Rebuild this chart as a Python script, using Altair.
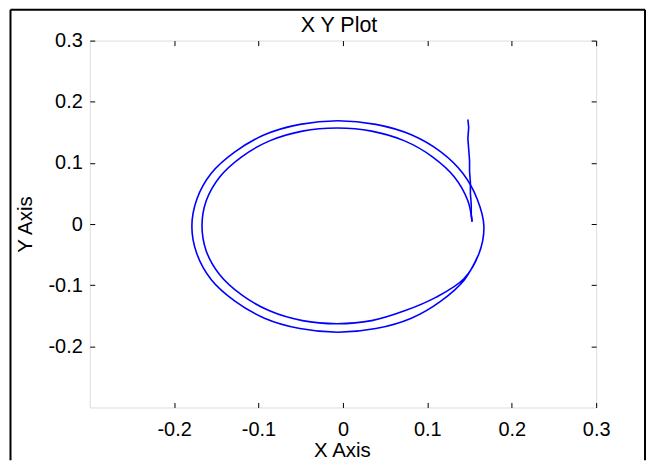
import altair as alt
import pandas as pd

# Transient: near-vertical drop at the right of the orbit
vert_x = [0.148, 0.149, 0.148, 0.149, 0.150, 0.150, 0.151, 0.151, 0.152, 0.152, 0.153]
vert_y = [0.171, 0.158, 0.140, 0.122, 0.104, 0.086, 0.068, 0.050, 0.032, 0.016, 0.004]

# First (inner) loop, counter-clockwise from the right
inner_x = [0.153, 0.148, 0.132, 0.106, 0.073, 0.034, -0.007, -0.048, -0.087, -0.120,
           -0.146, -0.162, -0.167, -0.162, -0.146, -0.120, -0.087, -0.048, -0.007,
           0.034, 0.073, 0.110, 0.143]
inner_y = [0.004, 0.038, 0.077, 0.110, 0.136, 0.152, 0.157, 0.152, 0.136, 0.110,
           0.077, 0.038, -0.003, -0.044, -0.083, -0.116, -0.142, -0.158, -0.163,
           -0.158, -0.142, -0.120, -0.090]

# Second (outer) loop, the settled orbit
outer_x = [0.161, 0.167, 0.159, 0.142, 0.116, 0.081, 0.039, -0.006, -0.051, -0.093,
           -0.128, -0.156, -0.173, -0.179, -0.173, -0.156, -0.128, -0.093, -0.051,
           -0.006, 0.039, 0.081, 0.116, 0.144, 0.161]
outer_y = [-0.049, -0.004, 0.041, 0.083, 0.118, 0.146, 0.163, 0.169, 0.163, 0.146,
           0.118, 0.083, 0.041, -0.004, -0.049, -0.091, -0.126, -0.154, -0.171,
           -0.177, -0.171, -0.154, -0.126, -0.091, -0.049]

x_ticks = [-0.2, -0.1, 0.0, 0.1, 0.2, 0.3]
y_ticks = [-0.2, -0.1, 0.0, 0.1, 0.2, 0.3]
x_domain = [-0.3, 0.3]
y_domain = [-0.3, 0.3]
title_text = ["X Y Plot"]

FONT = "Liberation Sans"
BLUE = "#0000ff"

vert_df = pd.DataFrame({"x": vert_x, "y": vert_y, "k": list(range(len(vert_x)))})
sp_x = inner_x + outer_x
sp_y = inner_y + outer_y
spiral_df = pd.DataFrame({"x": sp_x, "y": sp_y, "k": list(range(len(sp_x)))})

xs = alt.Scale(domain=x_domain, nice=False, zero=False)
ys = alt.Scale(domain=y_domain, nice=False, zero=False)

common = dict(domain=False, grid=False, tickColor="black", tickSize=5, tickWidth=1, offset=-5)

bottom_axis = alt.Axis(orient="bottom", values=x_ticks, labelFont=FONT, labelFontSize=20,
                       labelColor="black", labelPadding=12, labelFlush=False,
                       labelExpr="toString(datum.value)",
                       title="X Axis", titleFont=FONT, titleFontSize=20.5, titleFontWeight="normal",
                       titleColor="black", titleX=253, titleY=54, titleBaseline="alphabetic",
                       titleAlign="center", **common)
left_axis = alt.Axis(orient="left", values=y_ticks, labelFont=FONT, labelFontSize=20,
                     labelColor="black", labelPadding=7.5, labelFlush=False,
                     labelExpr="toString(datum.value)",
                     title="Y Axis", titleFont=FONT, titleFontSize=20.5, titleFontWeight="normal",
                     titleColor="black", titleAngle=270, titleX=-63.5, titleY=184,
                     titleBaseline="alphabetic", titleAlign="center", **common)
top_axis = alt.Axis(orient="top", values=x_ticks, labels=False, title=None, **common)
right_axis = alt.Axis(orient="right", values=y_ticks, labels=False, title=None, **common)

spiral = alt.Chart(spiral_df).mark_line(color=BLUE, strokeWidth=1.6, interpolate="catmull-rom").encode(
    x=alt.X("x:Q", scale=xs, axis=bottom_axis),
    y=alt.Y("y:Q", scale=ys, axis=left_axis),
    order=alt.Order("k:Q"),
)
vert = alt.Chart(vert_df).mark_line(color=BLUE, strokeWidth=1.6).encode(
    x=alt.X("x:Q", scale=xs, axis=top_axis),
    y=alt.Y("y:Q", scale=ys, axis=right_axis),
    order=alt.Order("k:Q"),
)

title_df = pd.DataFrame({"t": title_text})
title_mark = alt.Chart(title_df).mark_text(
    font=FONT, fontSize=21.5, color="black", align="center", baseline="alphabetic"
).encode(x=alt.value(250), y=alt.value(-9), text="t:N")

frame_df = pd.DataFrame({"v": [0]})
left_rule = alt.Chart(frame_df).mark_rule(color="black", strokeWidth=2).encode(
    x=alt.value(-79.5), y=alt.value(-31), y2=alt.value(421))
top_rule = alt.Chart(frame_df).mark_rule(color="black", strokeWidth=2).encode(
    x=alt.value(-79.5), x2=alt.value(557), y=alt.value(-31))
right_rule = alt.Chart(frame_df).mark_rule(color="black", strokeWidth=2).encode(
    x=alt.value(557), y=alt.value(-31), y2=alt.value(421))

chart = alt.layer(spiral, vert, title_mark, left_rule, top_rule, right_rule).properties(
    width=508,
    height=368,
    padding={"left": 82, "top": 32, "right": 50, "bottom": 53},
    autosize=alt.AutoSizeParams(type="none"),
).configure_view(stroke="black", strokeWidth=1).configure(background="white")

chart.save("out.html", embed_options={"renderer": "svg", "actions": False})
